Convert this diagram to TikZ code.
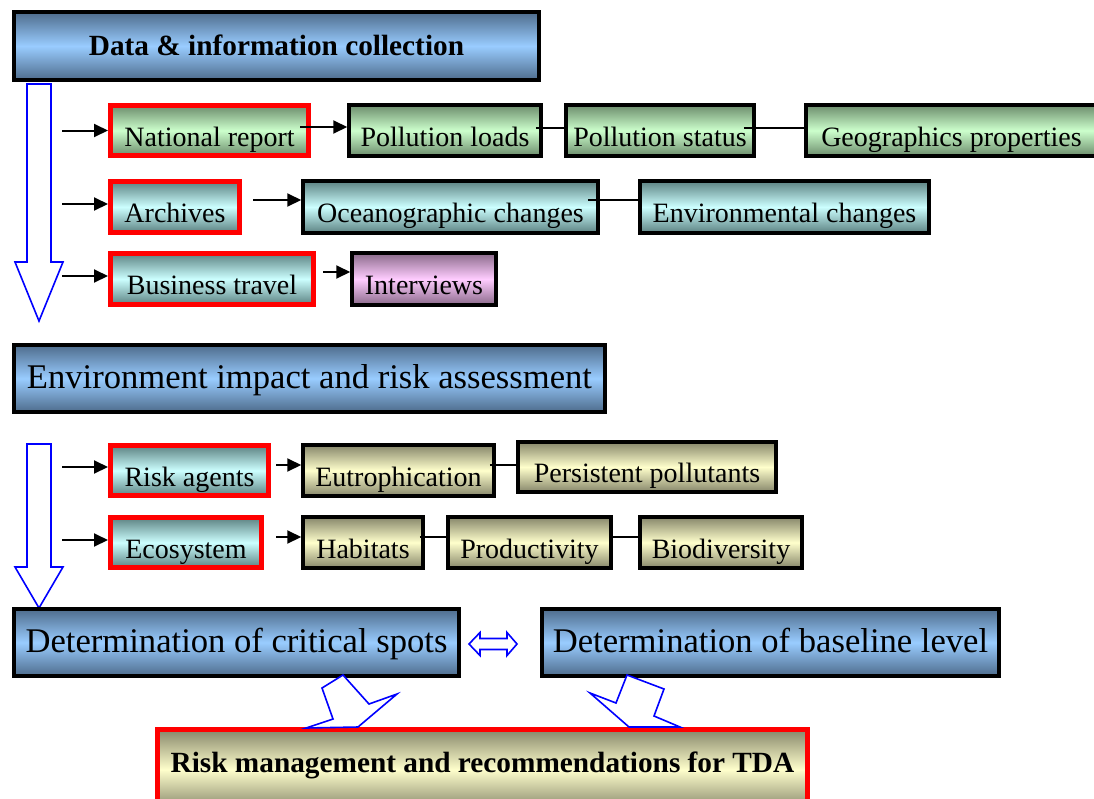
\documentclass[tikz,border=0pt]{standalone}
\usepackage{fontspec}
\setmainfont{Liberation Serif}
\usetikzlibrary{arrows.meta}

% gradient colours: dark edge / light middle
\definecolor{bluedk}{HTML}{4E6C8C}
\definecolor{bluelt}{HTML}{99CCFF}
\definecolor{greendk}{HTML}{6C8C6C}
\definecolor{greenlt}{HTML}{CCFFCC}
\definecolor{cyandk}{HTML}{5C8282}
\definecolor{cyanlt}{HTML}{CCFFFF}
\definecolor{pinkdk}{HTML}{8A6A8A}
\definecolor{pinklt}{HTML}{FFCCFF}
\definecolor{khakidk}{HTML}{86866A}
\definecolor{khakilt}{HTML}{FFFFCC}
\definecolor{arrowblue}{HTML}{0000FF}

\tikzset{
  box/.style={draw=black, line width=3.5pt, inner sep=0pt,
    text height=31pt, text depth=0pt,
    font=\fontsize{28}{31}\selectfont},
  redbox/.style={box, draw=red, line width=5pt},
  bigbox/.style={box, text height=19pt, font=\fontsize{34.6}{38}\selectfont},
  boldbox/.style={text height=18pt, font=\bfseries\fontsize{29.3}{33}\selectfont},
  sz/.style 2 args={minimum width=#1, minimum height=#2},
  bluefill/.style={top color=bluedk, bottom color=bluedk, middle color=bluelt},
  greenfill/.style={top color=greendk, bottom color=greendk, middle color=greenlt},
  cyanfill/.style={top color=cyandk, bottom color=cyandk, middle color=cyanlt},
  pinkfill/.style={top color=pinkdk, bottom color=pinkdk, middle color=pinklt},
  khakifill/.style={top color=khakidk, bottom color=khakidk, middle color=khakilt},
  arr/.style={draw=black, line width=2pt, -{Triangle[length=14pt,width=13pt]}},
  link/.style={draw=black, line width=1.5pt},
  hollow/.style={draw=arrowblue, line width=1.6pt, fill=white, line join=miter},
}

\begin{document}
\begin{tikzpicture}[x=1pt,y=-1pt]
\useasboundingbox (0,0) rectangle (1094,798);

% flow arrows down the left side
\draw[hollow] (27,84) -- (51,84) -- (51,262) -- (63,262) -- (39,321)
  -- (15,262) -- (27,262) -- cycle;
\draw[hollow] (27,444) -- (51,444) -- (51,567) -- (63,567) -- (39,608)
  -- (15,567) -- (27,567) -- cycle;

% stage 1: data collection
\node[box, boldbox, bluefill, sz={525}{68}] (top) at (276.5,46) {Data \& information collection};

\node[redbox, greenfill, sz={198}{50}] (nat) at (209.5,130.5) {National report};
\node[box, greenfill, sz={192}{51}] (ploads) at (445,130.5) {Pollution loads};
\node[box, greenfill, sz={188}{51}] (pstatus) at (660,130.5) {Pollution status};
\node[box, greenfill, sz={291}{51}] (geo) at (951.5,130.5) {Geographics properties};

\node[redbox, cyanfill, sz={129}{51}] (arch) at (175,207) {Archives};
\node[box, cyanfill, sz={295}{52}] (ocean) at (450.5,207) {Oceanographic changes};
\node[box, cyanfill, sz={289}{52}] (envc) at (784.5,207) {Environmental changes};

\node[redbox, cyanfill, sz={203}{51}] (bus) at (212,279) {Business travel};
\node[box, pinkfill, sz={144}{52}] (interv) at (424,279) {Interviews};

% stage 2: assessment
\node[box, bigbox, bluefill, sz={591}{67}] (envimp) at (309.5,378.5) {Environment impact and risk assessment};

\node[redbox, cyanfill, sz={158}{50}] (risk) at (189.5,470.5) {Risk agents};
\node[box, khakifill, sz={191}{51}] (eutro) at (398.5,470.5) {Eutrophication};
\node[box, khakifill, sz={258}{50}] (persist) at (647,467) {Persistent pollutants};

\node[redbox, cyanfill, sz={151}{50}] (eco) at (186,542.5) {Ecosystem};
\node[box, khakifill, sz={120}{51}] (hab) at (363,542.5) {Habitats};
\node[box, khakifill, sz={163}{51}] (prod) at (529.5,542.5) {Productivity};
\node[box, khakifill, sz={162}{51}] (bio) at (721,542.5) {Biodiversity};

% stage 3: determinations and outcome
\node[box, bigbox, bluefill, sz={445}{67}] (crit) at (236.5,642.5) {Determination of critical spots};
\node[box, bigbox, bluefill, sz={457}{67}] (base) at (770.5,642.5) {Determination of baseline level};
\node[redbox, boldbox, khakifill, sz={650}{80}, text height=5pt] (riskm) at (482.5,769.5) {Risk management and recommendations for TDA};

% feeds from the main flow into the sources
\draw[arr] ([xshift=-46pt]nat.west) -- (nat.west);
\draw[arr] ([xshift=-46pt,yshift=3pt]arch.west) -- ([yshift=3pt]arch.west);
\draw[arr] ([xshift=-46pt,yshift=3pt]bus.west) -- ([yshift=3pt]bus.west);
\draw[arr] ([xshift=-46pt,yshift=3.5pt]risk.west) -- ([yshift=3.5pt]risk.west);
\draw[arr] ([xshift=-46pt,yshift=2.5pt]eco.west) -- ([yshift=2.5pt]eco.west);

% source to topic arrows
\draw[arr] ([xshift=-11pt,yshift=3.5pt]nat.east) -- ([yshift=3.5pt]ploads.west);
\draw[arr] ([xshift=11pt,yshift=7pt]arch.east) -- ([yshift=7pt]ocean.west);
\draw[arr] ([xshift=7pt,yshift=7pt]bus.east) -- ([yshift=7pt]interv.west);
\draw[arr] ([xshift=5pt,yshift=5.5pt]risk.east) -- ([yshift=5.5pt]eutro.west);
\draw[arr] ([xshift=12pt,yshift=5.5pt]eco.east) -- ([yshift=5.5pt]hab.west);

% links between topics
\draw[link] ([xshift=-7pt,yshift=2.5pt]ploads.east) -- ([yshift=2.5pt]pstatus.west);
\draw[link] ([xshift=-12pt,yshift=2.5pt]pstatus.east) -- ([yshift=2.5pt]geo.west);
\draw[link] ([xshift=-12pt,yshift=7pt]ocean.east) -- ([yshift=7pt]envc.west);
\draw[link] ([xshift=-6pt,yshift=5.5pt]eutro.east) coordinate (e1) -- (persist.west |- e1);
\draw[link] ([xshift=-5pt,yshift=5.5pt]hab.east) -- ([yshift=5.5pt]prod.west);
\draw[link] ([yshift=5.5pt]prod.east) -- ([yshift=5.5pt]bio.west);

% two-way arrow between the determinations
\draw[hollow] (469,644) -- (480,632.5) -- (480,638.5) -- (507,638.5) -- (507,632.5)
  -- (517,644) -- (507,655.5) -- (507,649.5) -- (480,649.5) -- (480,655.5) -- cycle;

% bent arrows down to the outcome
\draw[hollow] (343,675) -- (369,704) -- (397,694) -- (358,727) -- (306,728)
  -- (333,719) -- (322,688) -- cycle;
\draw[hollow] (627,675) -- (664,689) -- (654,716) -- (680,727) -- (629,727)
  -- (590,693) -- (616,703) -- cycle;
\end{tikzpicture}
\end{document}
